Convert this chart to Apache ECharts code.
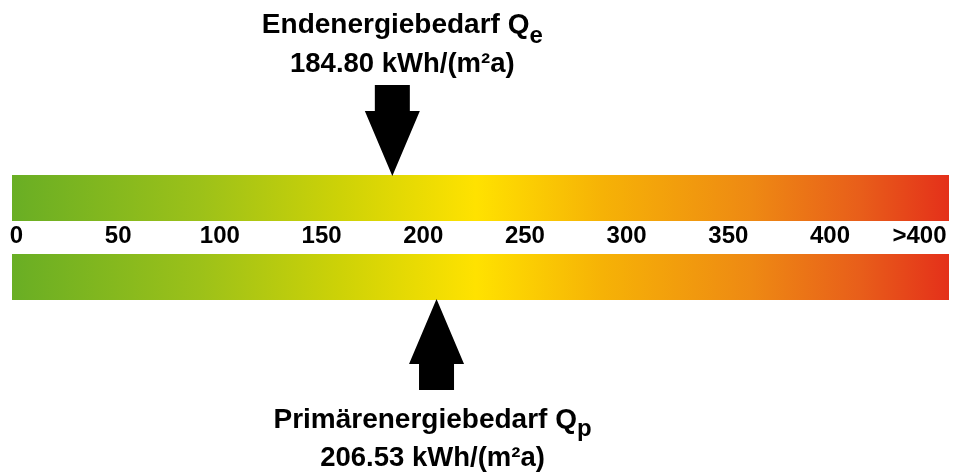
<!DOCTYPE html>
<html>
<head>
<meta charset="utf-8">
<script src="https://cdn.jsdelivr.net/npm/echarts@6/dist/echarts.min.js"></script>
<style>
html,body{margin:0;padding:0;background:#fff;}
#chart{width:956px;height:476px;}
</style>
</head>
<body>
<div id="chart"></div>
<script>
// ---- data ----
const scaleMin = -2.2;
const scaleMax = 458.5;
const tickValues = [0, 50, 100, 150, 200, 250, 300, 350, 400, 444];
const tickLabels = ['0', '50', '100', '150', '200', '250', '300', '350', '400', '>400'];
const endEnergyName = 'Endenergiebedarf Q';
const endEnergySub = 'e';
const endEnergyValue = 184.80;
const primaryEnergyName = 'Primärenergiebedarf Q';
const primaryEnergySub = 'p';
const primaryEnergyValue = 206.53;
const unit = 'kWh/(m²a)';

// ---- chart ----
const FONT = '"Liberation Sans", Arial, Helvetica, sans-serif';
const chart = echarts.init(document.getElementById('chart'));

function bandGradient() {
  return new echarts.graphic.LinearGradient(0, 0, 1, 0, [
    { offset: 0.00, color: '#69ae24' },
    { offset: 0.20, color: '#9cc119' },
    { offset: 0.35, color: '#cdd207' },
    { offset: 0.495, color: '#ffe200' },
    { offset: 0.63, color: '#f6b206' },
    { offset: 0.79, color: '#ee8913' },
    { offset: 0.905, color: '#e85e1a' },
    { offset: 1.00, color: '#e4301a' }
  ]);
}

function arrowItem(dir, name, sub, value, dx) {
  return function (params, api) {
    const cs = params.coordSys;
    const x = api.coord([api.value(0), 0])[0];
    const hw = 27.5, sw = 17.5, hh = 65, sh = 26;
    let pts, ty, textY;
    if (dir === 'down') {
      ty = cs.y + 1;
      pts = [[x, ty], [x - hw, ty - hh], [x - sw, ty - hh], [x - sw, ty - hh - sh],
             [x + sw, ty - hh - sh], [x + sw, ty - hh], [x + hw, ty - hh]];
      textY = ty - 165;
    } else {
      ty = cs.y + cs.height - 1;
      pts = [[x, ty], [x - hw, ty + hh], [x - sw, ty + hh], [x - sw, ty + hh + sh],
             [x + sw, ty + hh + sh], [x + sw, ty + hh], [x + hw, ty + hh]];
      textY = ty + 107;
    }
    const subLh = dir === 'down' ? 37 : 35;
    return {
      type: 'group',
      children: [
        { type: 'polygon', shape: { points: pts }, style: { fill: '#000' } },
        {
          type: 'text',
          x: x + dx,
          y: textY,
          style: {
            text: '{m|' + name + '}{s|' + sub + '}\n{v|' + value.toFixed(2) + ' ' + unit + '}',
            align: 'center',
            verticalAlign: 'top',
            fill: '#000',
            rich: {
              m: { fontSize: 28, fontWeight: 'bold', fontFamily: FONT, lineHeight: 30, verticalAlign: 'top', fill: '#000' },
              s: { fontSize: 24, fontWeight: 'bold', fontFamily: FONT, lineHeight: subLh, verticalAlign: 'bottom', fill: '#000' },
              v: { fontSize: 27.5, fontWeight: 'bold', fontFamily: FONT, lineHeight: dir === 'down' ? 32 : 34, fill: '#000' }
            }
          }
        }
      ]
    };
  };
}

const option = {
  animation: false,
  backgroundColor: '#fff',
  grid: { left: 12, right: 7, top: 175, bottom: 176 },
  xAxis: {
    type: 'value',
    min: scaleMin,
    max: scaleMax,
    position: 'bottom',
    offset: -64,
    axisLine: { show: false },
    axisTick: { show: false },
    splitLine: { show: false },
    axisLabel: {
      customValues: tickValues,
      formatter: function (v) {
        const i = tickValues.indexOf(v);
        return i >= 0 ? tickLabels[i] : '';
      },
      margin: 0,
      verticalAlign: 'middle',
      fontSize: 24,
      fontWeight: 'bold',
      fontFamily: FONT,
      color: '#000'
    }
  },
  yAxis: { type: 'value', min: 0, max: 1, show: false },
  series: [
    {
      type: 'custom',
      name: 'Skala',
      silent: true,
      data: [[scaleMin, scaleMax]],
      renderItem: function (params, api) {
        const cs = params.coordSys;
        const x0 = api.coord([api.value(0), 0])[0];
        const x1 = api.coord([api.value(1), 0])[0];
        const h = 46;
        return {
          type: 'group',
          children: [
            { type: 'rect', shape: { x: x0, y: cs.y, width: x1 - x0, height: h }, style: { fill: bandGradient() } },
            { type: 'rect', shape: { x: x0, y: cs.y + cs.height - h, width: x1 - x0, height: h }, style: { fill: bandGradient() } }
          ]
        };
      }
    },
    {
      type: 'custom',
      name: endEnergyName,
      silent: true,
      data: [[endEnergyValue]],
      renderItem: arrowItem('down', endEnergyName, endEnergySub, endEnergyValue, 10)
    },
    {
      type: 'custom',
      name: primaryEnergyName,
      silent: true,
      data: [[primaryEnergyValue]],
      renderItem: arrowItem('up', primaryEnergyName, primaryEnergySub, primaryEnergyValue, -4)
    }
  ]
};
chart.setOption(option);
</script>
</body>
</html>
